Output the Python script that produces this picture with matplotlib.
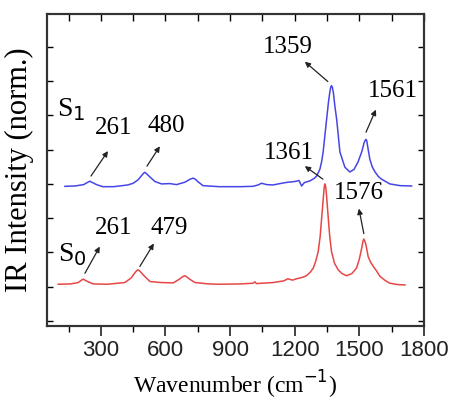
import numpy as np
from matplotlib import pyplot as plt

# S0 spectrum (red)
wn_s0 = [102, 160, 195, 210, 218, 226, 245, 264, 330, 411, 440, 460, 468, 473, 480, 500,
         528, 580, 636, 665, 682, 690, 698, 712, 737, 800, 853, 950, 1006, 1016, 1022,
         1100, 1150, 1168, 1190, 1209, 1235, 1255, 1272, 1286, 1298, 1309, 1318, 1325,
         1333, 1337, 1340, 1344, 1348, 1356, 1363, 1371, 1385, 1402, 1420, 1441, 1465,
         1487, 1500, 1512, 1517, 1521, 1525, 1531, 1541, 1552, 1565, 1580, 1596, 1620,
         1642, 1680, 1712]
int_s0 = [1.07, 1.08, 1.12, 1.19, 1.22, 1.19, 1.13, 1.08, 1.07, 1.12, 1.25, 1.42, 1.48,
          1.49, 1.46, 1.32, 1.15, 1.12, 1.11, 1.22, 1.30, 1.32, 1.29, 1.22, 1.12, 1.08,
          1.07, 1.08, 1.10, 1.14, 1.09, 1.12, 1.17, 1.23, 1.19, 1.23, 1.27, 1.32, 1.42,
          1.54, 1.75, 2.02, 2.45, 2.99, 3.6, 3.9, 4.0, 3.92, 3.65, 2.99, 2.45, 2.02,
          1.68, 1.49, 1.38, 1.32, 1.38, 1.54, 1.8, 2.15, 2.33, 2.39, 2.34, 2.22, 1.88,
          1.72, 1.59, 1.46, 1.30, 1.18, 1.10, 1.06, 1.05]

# S1 spectrum (blue)
wn_s1 = [133, 180, 220, 240, 249, 258, 280, 309, 360, 425, 450, 473, 490, 498, 504, 510,
         525, 551, 582, 620, 651, 690, 715, 729, 740, 750, 774, 850, 950, 1006, 1030,
         1046, 1070, 1099, 1140, 1168, 1200, 1220, 1232, 1245, 1271, 1290, 1302, 1317,
         1325, 1332, 1340, 1348, 1357, 1364, 1368, 1371, 1375, 1380, 1386, 1395, 1410,
         1433, 1456, 1475, 1494, 1512, 1522, 1528, 1531, 1535, 1540, 1549, 1560, 1573,
         1588, 1603, 1642, 1690, 1743]
int_s1 = [3.93, 3.94, 3.98, 4.05, 4.08, 4.05, 3.98, 3.92, 3.92, 3.97, 4.02, 4.12, 4.25,
          4.31, 4.34, 4.31, 4.22, 4.07, 4.0, 4.01, 3.98, 4.05, 4.14, 4.17, 4.13, 4.07,
          3.95, 3.92, 3.92, 3.93, 3.97, 4.02, 3.98, 3.97, 4.02, 4.05, 4.07, 4.10, 3.94,
          4.04, 4.09, 4.16, 4.23, 4.43, 4.65, 4.93, 5.4, 5.88, 6.4, 6.72, 6.84, 6.87,
          6.82, 6.65, 6.3, 5.88, 4.93, 4.49, 4.35, 4.42, 4.64, 4.95, 5.2, 5.28, 5.30,
          5.25, 5.05, 4.72, 4.5, 4.35, 4.22, 4.14, 4.0, 3.95, 3.94]

# peak labels: text, text position, arrow tail, arrow head
labels = ['261', '480', '1359', '1561', '1361', '1576', '261', '479']
text_xy = [(360, 5.62), (604, 5.68), (1166, 7.99), (1654, 6.70),
           (1171, 4.90), (1496, 3.74), (358, 2.70), (618, 2.70)]
arrow_tail = [(254, 4.23), (514, 4.52), (1354, 6.99), (1531, 5.51),
              (1331, 4.14), (1521, 2.55), (226, 1.39), (481, 1.59)]
arrow_head = [(333, 4.96), (574, 5.10), (1247, 7.57), (1577, 6.17),
              (1247, 4.52), (1498, 3.28), (295, 2.17), (546, 2.26)]

serif = 'Liberation Serif'
sans = 'Liberation Sans'


def main():
    fig = plt.figure(figsize=(4.53, 4.03), dpi=100)
    ax = fig.add_axes([0.1038, 0.191, 0.832, 0.774])

    ax.plot(wn_s1, int_s1, color='#4646e6', lw=1.1)
    ax.plot(wn_s0, int_s0, color='#e84646', lw=1.1)

    for lab, txy, tail, head in zip(labels, text_xy, arrow_tail, arrow_head):
        ax.text(txy[0], txy[1], lab, family=serif, fontsize=18,
                ha='center', va='center')
        ax.annotate('', xy=head, xytext=tail,
                    arrowprops=dict(arrowstyle='-|>', color='#222222', lw=0.9,
                                    mutation_scale=8, shrinkA=0, shrinkB=0))

    ax.text(96, 6.17, 'S$_1$', family=serif, fontsize=20, ha='left', va='center')
    ax.text(100, 1.94, 'S$_0$', family=serif, fontsize=20, ha='left', va='center')

    ax.set_xlim(50, 1800)
    ax.set_ylim(-0.15, 8.96)
    ax.set_xticks(range(300, 1801, 300))
    ax.set_xticks(range(150, 1800, 300), minor=True)
    ax.set_yticks(range(0, 9))
    ax.set_yticklabels([])
    ax.tick_params(axis='x', which='major', direction='out', length=7, width=1.2,
                   pad=3, labelsize=16, colors='#222222')
    ax.tick_params(axis='x', which='minor', direction='out', length=4, width=1.0)
    ax.tick_params(axis='y', direction='in', length=4, width=1.0, left=True, right=True)
    for t in ax.get_xticklabels():
        t.set_family(sans)

    top = ax.twiny()
    top.set_xlim(ax.get_xlim())
    top.set_xticks(range(150, 1801, 150))
    top.tick_params(axis='x', direction='in', length=5, width=1.0, labeltop=False)

    for a in (ax, top):
        for sp in a.spines.values():
            sp.set_linewidth(1.5)
            sp.set_color('#333333')

    ax.set_xlabel('Wavenumber (cm$^{-1}$)', family=serif, fontsize=17, labelpad=6)
    ax.set_ylabel('IR Intensity (norm.)', family=serif, fontsize=22, labelpad=6)

    fig.savefig('out.png', dpi=100)


if __name__ == '__main__':
    main()
